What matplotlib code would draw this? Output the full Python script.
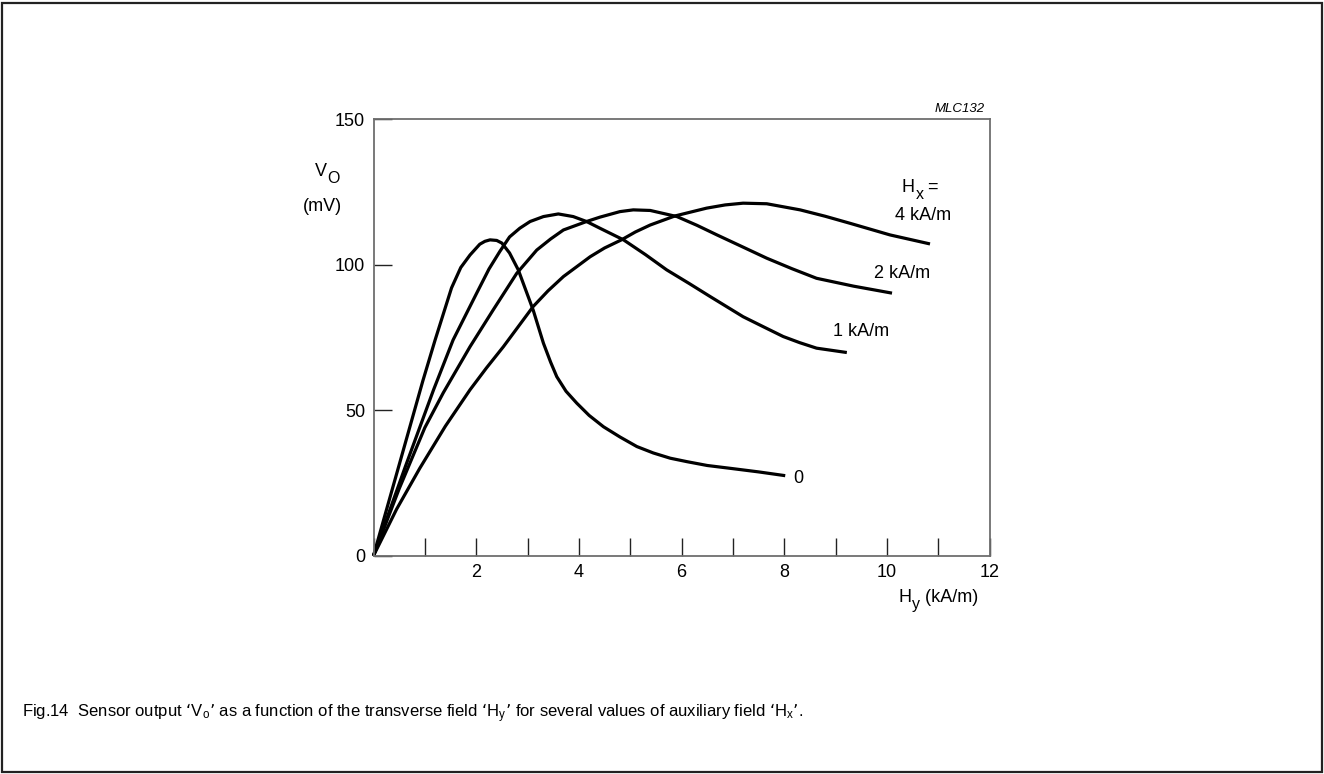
import matplotlib
matplotlib.use("Agg")
import matplotlib.pyplot as plt
from matplotlib.patches import Rectangle

plt.rcParams['font.family'] = ['Liberation Sans', 'DejaVu Sans']
plt.rcParams['mathtext.default'] = 'regular'

# curves: Hy (kA/m) -> Vo (mV)
hy_0 = [0, 0.49, 0.96, 1.2, 1.52, 1.7, 1.88, 2.07, 2.17, 2.27, 2.4, 2.5, 2.65, 2.82, 2.95, 3.11,
        3.31, 3.45, 3.57, 3.75, 3.96, 4.2, 4.48, 4.8, 5.13, 5.45, 5.78, 6.11, 6.5, 6.96, 7.5, 8.02]
vo_0 = [0, 30.6, 60, 74.1, 92, 99, 103.3, 107, 108, 108.5, 108.3, 107.4, 104, 98.2, 92, 84.4,
        73, 66.5, 61.5, 56.5, 52.4, 48.2, 44.3, 40.8, 37.5, 35.3, 33.5, 32.3, 31, 30, 28.8, 27.5]

hy_1 = [0, 0.62, 1.17, 1.55, 2.01, 2.25, 2.46, 2.65, 2.85, 3.05, 3.31, 3.6, 3.89, 4.15, 4.41, 4.87,
        5.3, 5.71, 6.15, 6.56, 7.2, 7.6, 7.98, 8.3, 8.63, 9.22]
vo_1 = [0, 30.6, 57, 74.1, 90.2, 98.5, 104.5, 109.5, 112.5, 114.8, 116.5, 117.4, 116.5, 114.8,
        112.5, 108.5, 103.4, 98.2, 93.5, 89, 82.1, 78.6, 75.3, 73.2, 71.3, 69.8]

hy_2 = [0, 0.5, 1.0, 1.36, 1.88, 2.33, 2.79, 3.18, 3.45, 3.7, 4.15, 4.41, 4.8, 5.06, 5.39, 5.91,
        6.3, 6.69, 7.2, 7.66, 8.15, 8.63, 9.35, 10.1]
vo_2 = [0, 23, 44, 56, 71.8, 84.4, 97, 105, 108.8, 111.9, 114.8, 116.3, 118.2, 118.8, 118.6,
        116.5, 113.5, 110.2, 106, 102.2, 98.6, 95.3, 92.6, 90.2]

hy_4 = [0, 0.45, 0.9, 1.4, 1.88, 2.2, 2.53, 3.11, 3.4, 3.7, 4.22, 4.5, 4.83, 5.1, 5.39, 5.87, 6.49,
        6.85, 7.2, 7.66, 8.31, 8.8, 9.28, 10.06, 10.84]
vo_4 = [0, 16, 30, 44.5, 57, 64.5, 71.8, 85.6, 91, 95.9, 102.7, 105.7, 108.5, 111.2, 113.6,
        116.7, 119.4, 120.5, 121.1, 120.9, 118.8, 116.6, 114.2, 110.2, 107.1]

x_ticks = list(range(0, 13))
x_labels = ['' if (t % 2 or t == 0) else str(t) for t in x_ticks]
y_ticks = [0, 50, 100, 150]
y_labels = ['0', '50', '100', '150']

FS = 13

fig = plt.figure(figsize=(13.24, 7.74), dpi=100)
ax = fig.add_axes([0.2821, 0.2820, 0.4653, 0.5642])

for hx, vx in [(hy_0, vo_0), (hy_1, vo_1), (hy_2, vo_2), (hy_4, vo_4)]:
    ax.plot(hx, vx, color='black', lw=2.3, solid_joinstyle='round', solid_capstyle='butt',
            clip_on=False)

ax.set_xlim(0, 12)
ax.set_ylim(0, 150)
ax.set_xticks(x_ticks)
ax.set_xticklabels(x_labels)
ax.set_yticks(y_ticks)
ax.set_yticklabels(y_labels)
ax.tick_params(direction='in', length=13, width=1, color='#222222', labelsize=FS,
               labelcolor='black')
ax.tick_params(axis='x', pad=6)
ax.tick_params(axis='y', pad=6)
for s in ax.spines.values():
    s.set_color('#6e6e6e')
    s.set_linewidth(1.3)


def sub_text(x, y, main, sub, after='', ha='left'):
    # main letter with a nearly full size subscript, as in the drawing
    t = ax.text(x, y, main, ha=ha, va='center', fontsize=FS, clip_on=False)
    s = ax.annotate(sub, xy=(1, 0.5), xycoords=t, xytext=(0.5, -5),
                    textcoords='offset points', ha='left', va='center', fontsize=FS - 1.5)
    if after:
        ax.annotate(after, xy=(1, 0.5), xycoords=s, xytext=(0, 5),
                    textcoords='offset points', ha='left', va='center', fontsize=FS)
    return t


# axis titles
sub_text(-1.15, 132.0, 'V', 'O')
ax.text(-1.0, 120.0, '(mV)', ha='center', va='center', fontsize=FS, clip_on=False)
sub_text(10.22, -14.3, 'H', 'y', ' (kA/m)')
ax.text(11.9, 153.4, 'MLC132', ha='right', va='center', fontsize=9.5, style='italic')

# curve labels
sub_text(10.29, 126.5, 'H', 'x', ' =')
ax.text(10.15, 116.7, '4 kA/m', ha='left', va='center', fontsize=FS)
ax.text(9.74, 97.0, '2 kA/m', ha='left', va='center', fontsize=FS)
ax.text(8.96, 77.0, '1 kA/m', ha='left', va='center', fontsize=FS)
ax.text(8.18, 26.7, '0', ha='left', va='center', fontsize=FS)

fig.text(22 / 1324, 1 - 713 / 774,
         'Fig.14  Sensor output \u2018V$_o$\u2019 as a function of the transverse field '
         '\u2018H$_y$\u2019 for several values of auxiliary field \u2018H$_x$\u2019.',
         ha='left', va='center', fontsize=12)

fig.patches.append(Rectangle((2 / 1324, 2 / 774), 1320 / 1324, 769 / 774,
                             transform=fig.transFigure, fill=False, lw=1.6,
                             edgecolor='#222222'))

fig.savefig('out.png', dpi=100)
